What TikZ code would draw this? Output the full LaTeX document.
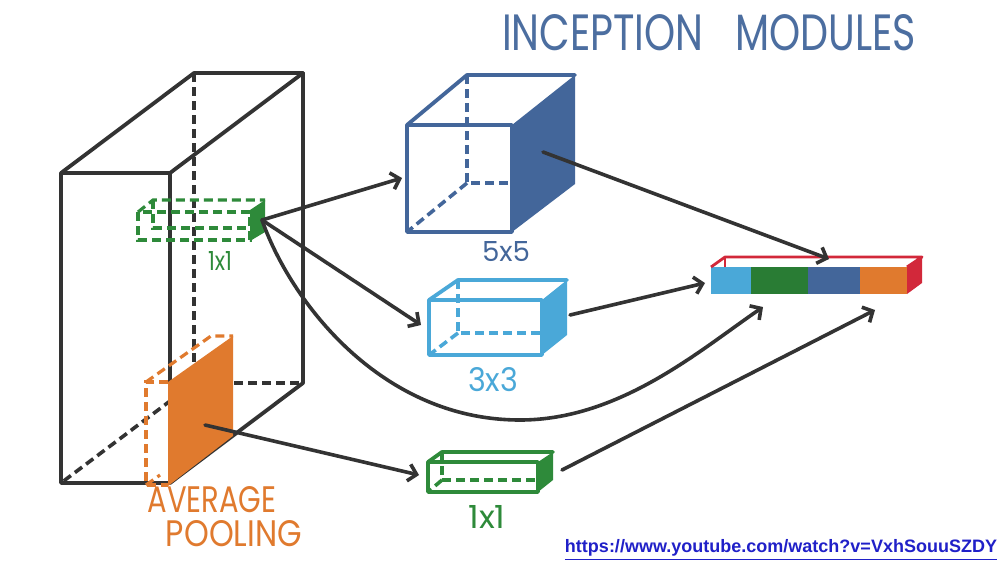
\documentclass[tikz,border=0pt]{standalone}
\usepackage{fontspec}
\usepackage{graphicx}
\usetikzlibrary{arrows.meta}
\newfontfamily\hand{Poppins}
\newfontfamily\urlfont{Liberation Sans}
\definecolor{ink}{HTML}{333333}
\definecolor{grn}{HTML}{2E8A3A}
\definecolor{org}{HTML}{E07A2E}
\definecolor{dblue}{HTML}{43669A}
\definecolor{lblue}{HTML}{4AA8D8}
\definecolor{rd}{HTML}{D2283A}
\definecolor{ttl}{HTML}{4C6EA0}
\definecolor{urlc}{HTML}{2020C8}
\tikzset{
  solidln/.style={line width=3.8pt, line join=round, line cap=round},
  hidden/.style={line width=3.6pt, dash pattern=on 9pt off 5pt},
  arr/.style={ink, line width=3.6pt, line cap=round, -{Straight Barb[length=8pt,width=17pt]}},
  lbl/.style={inner sep=0pt, anchor=center},
}
\begin{document}
\begin{tikzpicture}[x=1pt,y=-1pt]
\useasboundingbox (0,0) rectangle (1000,562);
\fill[white] (0,0) rectangle (1000,562);

% ---------- big input volume ----------
\draw[ink, hidden] (194,73) -- (194,383) -- (303,383);
\draw[ink, hidden] (194,383) -- (61,483);
\draw[ink, solidln] (61,173) rectangle (170,483);
\draw[ink, solidln] (61,173) -- (194,73) -- (303,73) -- (170,173);
\draw[ink, solidln] (303,73) -- (303,383) -- (170,483);

% ---------- green 1x1 slab ----------
\draw[grn, hidden, line width=3.2pt] (138,212) rectangle (250,240);
\draw[grn, hidden, line width=3.2pt] (138,212) -- (153,200) -- (265,200);
\draw[grn, hidden, line width=3.2pt] (153,200) -- (153,228) -- (250,228);
\fill[grn] (250,210) -- (265,200) -- (265,232) -- (250,241) -- cycle;
\node[lbl, grn] (lab1) at (220,261) {\resizebox{24pt}{19pt}{\hand 1x1}};

% ---------- orange pooling slab ----------
\draw[org, hidden, line width=3.2pt] (168,382) -- (146,382) -- (146,485) -- (168,485);
\draw[org, hidden, line width=3.2pt] (146,382) -- (211,336) -- (233,336);
\draw[org, hidden, line width=3.2pt] (146,485) -- (160,475);
\fill[org] (168,382) -- (233,336) -- (233,436) -- (168,486) -- cycle;
\node[lbl, org] (avg) at (212,500) {\resizebox{129pt}{26pt}{\hand AVERAGE}};
\node[lbl, org] (pool) at (234,534) {\resizebox{136pt}{26pt}{\hand POOLING}};

% ---------- 5x5 cube ----------
\fill[dblue] (512,125) -- (575,75) -- (575,184) -- (512,232) -- cycle;
\draw[dblue, hidden] (467,75) -- (467,183) -- (512,183);
\draw[dblue, hidden] (467,183) -- (407,232);
\draw[dblue, solidln] (407,125) rectangle (512,232);
\draw[dblue, solidln] (407,125) -- (467,75) -- (575,75);
\node[lbl, dblue] (lab5) at (506,252) {\resizebox{48pt}{20pt}{\hand 5x5}};

% ---------- 3x3 box ----------
\fill[lblue] (542,300) -- (567,280) -- (567,335) -- (542,355) -- cycle;
\draw[lblue, hidden] (458,280) -- (458,333) -- (542,333);
\draw[lblue, hidden] (458,333) -- (429,355);
\draw[lblue, solidln] (429,300) rectangle (542,355);
\draw[lblue, solidln] (429,300) -- (458,280) -- (567,280);
\node[lbl, lblue] (lab3) at (493,380) {\resizebox{50pt}{24pt}{\hand 3x3}};

% ---------- 1x1 box ----------
\fill[grn] (538,462) -- (553,452) -- (553,480) -- (538,492) -- cycle;
\draw[grn, hidden] (442,452) -- (442,480) -- (538,480);
\draw[grn, hidden] (442,480) -- (428,492);
\draw[grn, solidln] (428,462) rectangle (538,492);
\draw[grn, solidln] (428,462) -- (442,452) -- (553,452);
\node[lbl, grn] (lab1b) at (487,517) {\resizebox{37pt}{23pt}{\hand 1x1}};

% ---------- concatenated output bar ----------
\fill[lblue] (711,267) rectangle (751,294);
\fill[grn!90!black] (751,267) rectangle (808,294);
\fill[dblue] (808,267) rectangle (860,294);
\fill[org] (860,267) rectangle (907,294);
\draw[rd, line width=2.8pt, line join=round] (711,267) -- (725,257) -- (922,257) -- (907,267);
\draw[rd, line width=2.8pt] (725,257) -- (725,267);
\fill[rd] (907,267) -- (922,257) -- (922,283) -- (907,294) -- cycle;

% ---------- connector end points ----------
\coordinate (g)   at (262,220);
\coordinate (t5)  at (402,178);
\coordinate (t3)  at (421,325);
\coordinate (s5)  at (543,152);
\coordinate (e5)  at (829,259);
\coordinate (s3)  at (570,315);
\coordinate (e3)  at (705,283);
\coordinate (eg)  at (763,307);
\coordinate (o)   at (205,425);
\coordinate (t1)  at (419,475);
\coordinate (s1)  at (562,470);
\coordinate (e1)  at (875,310);

\draw[arr] (g) -- (t5);
\draw[arr] (g) -- (t3);
\draw[arr] (g) .. controls (290,300) and (380,420) .. (520,420)
               .. controls (620,420) and (700,350) .. (eg);
\draw[arr] (s5) -- (e5);
\draw[arr] (s3) -- (e3);
\draw[arr] (o) -- (t1);
\draw[arr] (s1) -- (e1);

% ---------- title and link ----------
\node[lbl, ttl] (title) at (709,33) {\resizebox{414pt}{36pt}{\hand INCEPTION\hspace{0.8em}MODULES}};
\node[lbl, urlc] (url) at (781,550) {\resizebox{432pt}{!}{\urlfont\bfseries\underline{https://www.youtube.com/watch?v=VxhSouuSZDY}}};
\end{tikzpicture}
\end{document}
